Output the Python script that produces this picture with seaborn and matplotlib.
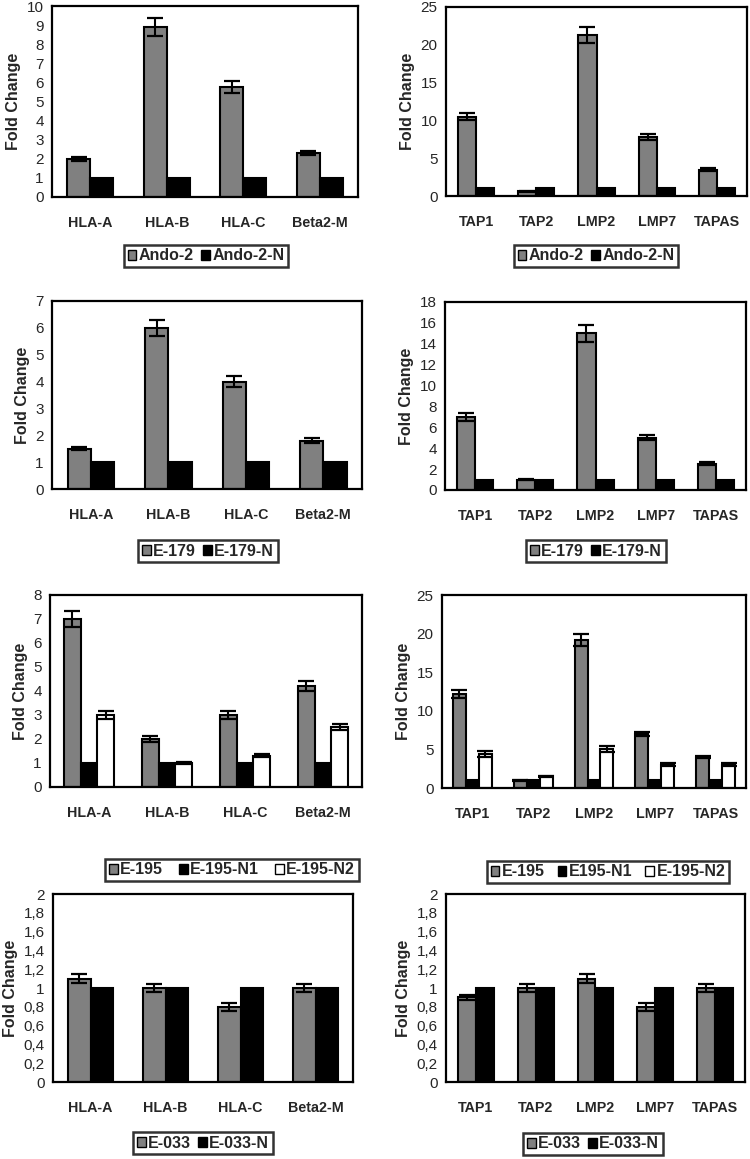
import numpy as np
import pandas as pd
import matplotlib
matplotlib.use('Agg')
import matplotlib.pyplot as plt
import seaborn as sns
from matplotlib.patches import Patch

##DATA##
hla_genes = ['HLA-A', 'HLA-B', 'HLA-C', 'Beta2-M']
tap_genes = ['TAP1', 'TAP2', 'LMP2', 'LMP7', 'TAPAS']

ando_hla = [2.0, 8.9, 5.75, 2.3]
ando_hla_err = [0.12, 0.45, 0.3, 0.1]
ando_hla_n = [1, 1, 1, 1]
ando_tap = [10.5, 0.6, 21.3, 7.8, 3.5]
ando_tap_err = [0.5, 0.1, 1.0, 0.4, 0.2]
ando_tap_n = [1, 1, 1, 1, 1]

e179_hla = [1.5, 6.0, 4.0, 1.8]
e179_hla_err = [0.06, 0.3, 0.2, 0.1]
e179_hla_n = [1, 1, 1, 1]
e179_tap = [7.0, 1.0, 15.0, 5.0, 2.5]
e179_tap_err = [0.4, 0.05, 0.8, 0.25, 0.15]
e179_tap_n = [1, 1, 1, 1, 1]

e195_hla = [7.0, 2.0, 3.0, 4.2]
e195_hla_err = [0.35, 0.13, 0.15, 0.22]
e195_hla_n1 = [1, 1, 1, 1]
e195_hla_n2 = [3.0, 1.0, 1.3, 2.5]
e195_hla_n2_err = [0.15, 0.05, 0.06, 0.12]
e195_tap = [12.2, 1.0, 19.2, 7.0, 4.0]
e195_tap_err = [0.5, 0.05, 0.8, 0.25, 0.15]
e195_tap_n1 = [1, 1, 1, 1, 1]
e195_tap_n2 = [4.4, 1.5, 5.0, 3.0, 3.0]
e195_tap_n2_err = [0.4, 0.1, 0.4, 0.2, 0.2]

e033_hla = [1.1, 1.0, 0.8, 1.0]
e033_hla_err = [0.05, 0.04, 0.04, 0.04]
e033_hla_n = [1, 1, 1, 1]
e033_tap = [0.9, 1.0, 1.1, 0.8, 1.0]
e033_tap_err = [0.03, 0.04, 0.05, 0.04, 0.04]
e033_tap_n = [1, 1, 1, 1, 1]

GRAY = '#808080'
W, H = 750, 1159

def plotPanel(fig, box, genes, series, labels, errs, colors, yticks, width, legpos, colsp=0.45, comma=False):
    x0, y0, x1, y1 = box
    ax = fig.add_axes([x0/W, 1-y1/H, (x1-x0)/W, (y1-y0)/H])
    rows = []
    for lab, vals in zip(labels, series):
        for g, v in zip(genes, vals):
            rows.append([g, lab, v])
    df = pd.DataFrame(rows, columns=['Gene', 'Sample', 'Value'])
    sns.barplot(data=df, x='Gene', y='Value', hue='Sample', palette=dict(zip(labels, colors)),
                width=width, edgecolor='black', linewidth=1.5, errorbar=None, legend=False, ax=ax)
    # error bars on top of the bars
    for cont, err in zip(ax.containers, errs):
        if err is None:
            continue
        xs = [p.get_x()+p.get_width()/2 for p in cont.patches]
        hs = [p.get_height() for p in cont.patches]
        ax.errorbar(xs, hs, yerr=err, fmt='none', ecolor='black', elinewidth=1.5, capsize=5.5, capthick=1.6)
    n = len(genes)
    ax.set_xlim(-0.5, n-0.5)
    ax.set_ylim(yticks[0], yticks[-1])
    ax.set_yticks(yticks)
    if comma:
        ax.set_yticklabels([('%g' % t).replace('.', ',') for t in yticks])
    else:
        ax.set_yticklabels(['%g' % t for t in yticks])
    ax.set_xticks(np.arange(n))
    ax.set_xticks(np.arange(n+1)-0.5, minor=True)
    ax.tick_params(axis='x', which='major', length=0, pad=14, labelsize=10.3)
    ax.tick_params(axis='x', which='minor', length=4, width=1.5, direction='out')
    ax.tick_params(axis='y', length=4, width=1.5, labelsize=11, pad=2)
    for t in ax.get_xticklabels():
        t.set_fontweight('bold')
    for s in ax.spines.values():
        s.set_linewidth(1.6)
        s.set_color('black')
    ax.set_xlabel('')
    ax.set_ylabel('Fold Change', fontsize=11.5, fontweight='bold', labelpad=4)
    handles = [Patch(facecolor=c, edgecolor='black', linewidth=1.0) for c in colors]
    leg = ax.legend(handles, labels, loc='center', bbox_to_anchor=(legpos[0]/W, 1-legpos[1]/H),
                    bbox_transform=fig.transFigure, ncol=len(labels), frameon=True, fancybox=False,
                    handlelength=0.55, handleheight=0.55, handletextpad=0.15, columnspacing=colsp,
                    borderpad=0.25, prop={'weight': 'bold', 'size': 11.5})
    leg.get_frame().set_edgecolor('black')
    leg.get_frame().set_linewidth(1.8)
    return ax

sns.set_style('white')
plt.rcParams['font.family'] = ['Liberation Sans', 'DejaVu Sans']
fig = plt.figure(figsize=(7.5, 11.59), dpi=100)

two = [GRAY, 'black']
three = [GRAY, 'black', 'white']

plotPanel(fig, (52, 6, 358, 197), hla_genes, [ando_hla, ando_hla_n], ['Ando-2', 'Ando-2-N'],
          [ando_hla_err, None], two, np.arange(0, 11, 1), 0.6, (206, 256))
plotPanel(fig, (446, 7, 747, 196), tap_genes, [ando_tap, ando_tap_n], ['Ando-2', 'Ando-2-N'],
          [ando_tap_err, None], two, np.arange(0, 26, 5), 0.6, (596, 256))
plotPanel(fig, (52, 301, 362, 489), hla_genes, [e179_hla, e179_hla_n], ['E-179', 'E-179-N'],
          [e179_hla_err, None], two, np.arange(0, 8, 1), 0.6, (208, 551))
plotPanel(fig, (445, 302, 746, 490), tap_genes, [e179_tap, e179_tap_n], ['E-179', 'E-179-N'],
          [e179_tap_err, None], two, np.arange(0, 19, 2), 0.6, (596, 551))
plotPanel(fig, (50, 595, 362, 787), hla_genes, [e195_hla, e195_hla_n1, e195_hla_n2],
          ['E-195', 'E-195-N1', 'E-195-N2'], [e195_hla_err, None, e195_hla_n2_err], three,
          np.arange(0, 9, 1), 0.64, (232, 870), colsp=1.0)
plotPanel(fig, (442, 595, 746, 788), tap_genes, [e195_tap, e195_tap_n1, e195_tap_n2],
          ['E-195', 'E195-N1', 'E-195-N2'], [e195_tap_err, None, e195_tap_n2_err], three,
          np.arange(0, 26, 5), 0.64, (608, 872), colsp=0.8)
plotPanel(fig, (53, 894, 353, 1082), hla_genes, [e033_hla, e033_hla_n], ['E-033', 'E-033-N'],
          [e033_hla_err, None], two, np.round(np.arange(0, 2.01, 0.2), 1), 0.6, (203, 1143), comma=True)
plotPanel(fig, (446, 894, 745, 1082), tap_genes, [e033_tap, e033_tap_n], ['E-033', 'E-033-N'],
          [e033_tap_err, None], two, np.round(np.arange(0, 2.01, 0.2), 1), 0.6, (593, 1144), comma=True)

plt.savefig('out.png', dpi=100)
